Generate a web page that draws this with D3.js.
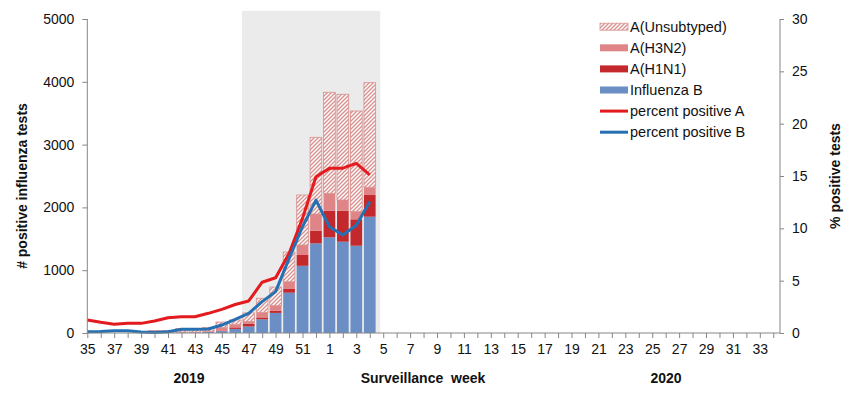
<!DOCTYPE html>
<html><head><meta charset="utf-8">
<script src="https://cdn.jsdelivr.net/npm/d3@7"></script>
<style>
html,body{margin:0;padding:0;background:#fff;}
svg{display:block;font-family:"Liberation Sans",Arial,sans-serif;}
</style></head>
<body><svg id="chart" width="859" height="397"></svg>
<script>
// ---- data ----
const weeks = [35,36,37,38,39,40,41,42,43,44,45,46,47,48,49,50,51,52,
  1,2,3,4,5,6,7,8,9,10,11,12,13,14,15,16,17,18,19,20,21,22,23,24,25,26,27,28,29,30,31,32,33,34];
const fluB =       [0,0,0,0,0,5,5,10,10,15,30,65,105,218,320,642,1070,1428,1524,1454,1390,1852];
const aH1N1 =      [0,0,0,0,0,0,0,0,0,5,10,25,40,30,33,66,172,201,424,494,420,345];
const aH3N2 =      [0,0,0,0,0,0,0,5,5,10,45,48,40,80,82,108,159,266,276,170,122,123];
const aUnsub =     [0,0,0,0,0,35,35,55,55,60,90,70,135,225,297,473,796,1221,1609,1683,1603,1666];
const pctA = [1.24,1.02,0.83,0.92,0.92,1.15,1.46,1.56,1.56,1.88,2.26,2.72,3.06,4.85,5.28,7.6,10.95,14.93,15.73,15.75,16.2,15.1];
const pctB = [0.12,0.15,0.22,0.22,0.1,0.05,0.12,0.35,0.35,0.38,0.76,1.3,1.88,3.0,3.95,7.1,10.15,12.7,10.15,9.36,10.3,12.54];
const leftTicks = [0,1000,2000,3000,4000,5000];
const rightTicks = [0,5,10,15,20,25,30];
const yearLabels = ["2019","2020"];
const xTitle = "Surveillance  week";
const yTitleLeft = "# positive influenza tests";
const yTitleRight = "% positive tests";
const shadeRange = [11.5, 21.78]; // category index span of season shading
const seriesNames = ["A(Unsubtyped)","A(H3N2)","A(H1N1)","Influenza B","percent positive A","percent positive B"];

// ---- setup ----
const svg = d3.select("#chart");
const L = 87.3, R = 780, T = 19, B = 333;
const x = d3.scaleLinear().domain([0, 51.5]).range([L, R]);
const y = d3.scaleLinear().domain([0, 5000]).range([B, T]);
const y2 = d3.scaleLinear().domain([0, 30]).range([B, T]);
const step = x(1) - x(0);
const bw = step * 0.87;
const colB = "#6b8fc4", colH1 = "#c3282c", colH3 = "#e08587", hatchCol = "#d8918f";
const colRed = "#e31b1f", colBlue = "#2470b3";
const axisCol = "#868686";

const defs = svg.append("defs");
const pat = defs.append("pattern").attr("id","hatch").attr("patternUnits","userSpaceOnUse")
  .attr("width",4).attr("height",4);
pat.append("rect").attr("width",4).attr("height",4).attr("fill","#fff");
pat.append("path").attr("d","M-1,1 l2,-2 M0,4 l4,-4 M3,5 l2,-2")
  .attr("stroke",hatchCol).attr("stroke-width",1.4);

// shading
svg.append("rect").attr("x", x(shadeRange[0])).attr("y", y(5130))
  .attr("width", x(shadeRange[1]) - x(shadeRange[0])).attr("height", B - y(5130))
  .attr("fill", "#ebebeb");

// stacked bars
const keys = ["B","H1","H3","U"];
const rows = weeks.map((w,i)=>({i, B: fluB[i]||0, H1: aH1N1[i]||0, H3: aH3N2[i]||0, U: aUnsub[i]||0}));
const stack = d3.stack().keys(keys)(rows);
const fills = {B: colB, H1: colH1, H3: colH3, U: "url(#hatch)"};
stack.forEach(s=>{
  svg.append("g").selectAll("rect").data(s.filter(d=>d[1]-d[0]>0)).join("rect")
    .attr("x", d=>Math.max(L, x(d.data.i)-bw/2))
    .attr("width", d=>x(d.data.i)+bw/2 - Math.max(L, x(d.data.i)-bw/2))
    .attr("y", d=>y(d[1])).attr("height", d=>y(d[0])-y(d[1]))
    .attr("fill", fills[s.key])
    .attr("stroke", s.key==="U" ? hatchCol : "none").attr("stroke-width", 0.8);
});

// lines
const line = sc => d3.line().x((d,i)=>x(i)).y(d=>sc(d));
svg.append("path").datum(pctA).attr("d", line(y2)).attr("fill","none")
  .attr("stroke", colRed).attr("stroke-width",3).attr("stroke-linejoin","round");
svg.append("path").datum(pctB).attr("d", line(y2)).attr("fill","none")
  .attr("stroke", colBlue).attr("stroke-width",3).attr("stroke-linejoin","round");

// axes
const fs = "14px";
const gL = svg.append("g").attr("transform",`translate(${L},0)`)
  .call(d3.axisLeft(y).tickValues(leftTicks).tickFormat(d3.format("d")).tickSize(5).tickPadding(8));
const gR = svg.append("g").attr("transform",`translate(${R},0)`)
  .call(d3.axisRight(y2).tickValues(rightTicks).tickFormat(d3.format("d")).tickSize(4).tickPadding(8));
const gX = svg.append("g").attr("transform",`translate(0,${B})`)
  .call(d3.axisBottom(x).tickValues(d3.range(weeks.length)).tickSize(5).tickPadding(6)
    .tickFormat(i=> i%2===0 ? weeks[i] : ""));
[gL,gR,gX].forEach(g=>{
  g.select(".domain").attr("stroke",axisCol).attr("stroke-width",1);
  g.selectAll(".tick line").attr("stroke",axisCol);
  g.selectAll("text").attr("fill","#111").style("font-size",fs).style("font-family","Liberation Sans, Arial, sans-serif");
});
gX.select(".domain").attr("d",`M${L},0H${R}`);
gL.select(".domain").attr("d",`M0,${T}V${B}`);
gR.select(".domain").attr("d",`M0,${T}V${B}`);

// titles
const bold = sel => sel.attr("font-weight","bold").attr("font-size","14px").attr("fill","#111");
svg.append("text").attr("x",423).attr("y",383).attr("text-anchor","middle").attr("xml:space","preserve").text(xTitle).call(bold);
svg.append("text").attr("x",189).attr("y",383).attr("text-anchor","middle").text(yearLabels[0]).call(bold);
svg.append("text").attr("x",666).attr("y",383).attr("text-anchor","middle").text(yearLabels[1]).call(bold);
svg.append("text").attr("transform","translate(27,186) rotate(-90)").attr("text-anchor","middle").text(yTitleLeft).call(bold);
svg.append("text").attr("transform","translate(840,176) rotate(-90)").attr("text-anchor","middle").text(yTitleRight).call(bold);

// legend
const lx = 600, ly0 = 26.7, ldy = 21.1;
const lg = svg.append("g");
seriesNames.forEach((n,i)=>{
  const cy = ly0 + i*ldy;
  if (i < 4) {
    const f = ["url(#hatch)", colH3, colH1, colB][i];
    lg.append("rect").attr("x",lx).attr("y",cy-3.5).attr("width",28).attr("height",7)
      .attr("fill",f).attr("stroke", i===0 ? hatchCol : "none").attr("stroke-width",0.8);
  } else {
    lg.append("line").attr("x1",lx).attr("x2",lx+28).attr("y1",cy).attr("y2",cy)
      .attr("stroke", i===4 ? colRed : colBlue).attr("stroke-width",3);
  }
  lg.append("text").attr("x",lx+30).attr("y",cy+5).attr("font-size","14.5px").attr("fill","#111").text(n);
});
</script></body></html>
